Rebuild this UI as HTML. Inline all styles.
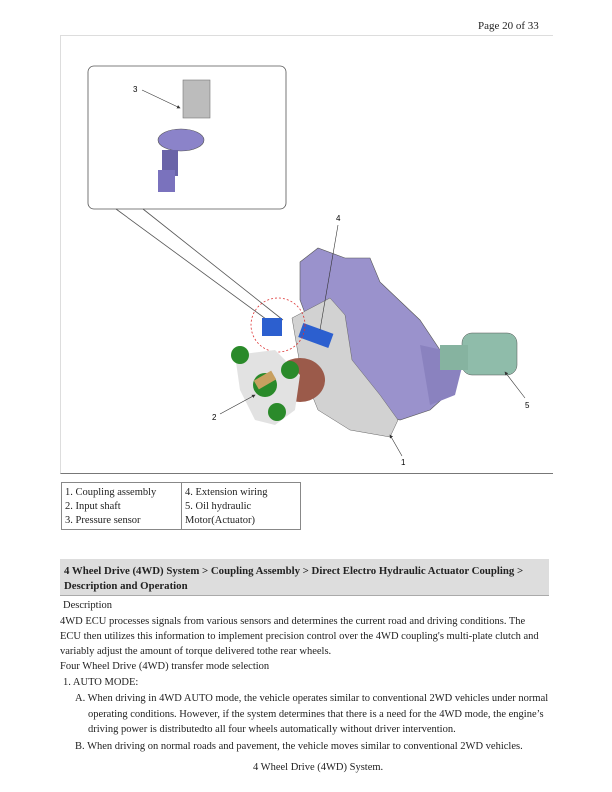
<!DOCTYPE html>
<html><head><meta charset="utf-8"><style>
body{margin:0;width:612px;height:792px;background:#fff;position:relative;font-family:"Liberation Serif",serif;color:#222;overflow:hidden}
.a{position:absolute;white-space:nowrap}
.t{font-size:10.5px;line-height:14px}
p.l{position:absolute;margin:0;font-size:10.5px;white-space:nowrap}
</style></head><body>
<div class="a" style="left:478px;top:20px;font-size:11px">Page 20 of 33</div>
<div class="a" style="left:60px;top:35px;width:492px;height:437px;border-top:1px solid #ddd;border-left:1px solid #ddd;border-bottom:1px solid #777"></div>
<svg class="a" style="left:0;top:0" width="612" height="480">
<defs><marker id="ar" markerWidth="6" markerHeight="6" refX="5" refY="3" orient="auto"><path d="M0,0 L6,3 L0,6z" fill="#333"/></marker></defs>
<rect x="88" y="66" width="198" height="143" rx="6" fill="none" stroke="#555" stroke-width="0.8"/>
<line x1="116" y1="209" x2="270" y2="322" stroke="#555" stroke-width="0.8"/>
<line x1="143" y1="209" x2="283" y2="320" stroke="#555" stroke-width="0.8"/>
<rect x="183" y="80" width="27" height="38" fill="#bcbcbc" stroke="#777" stroke-width="0.6"/>
<ellipse cx="181" cy="140" rx="23" ry="11" fill="#8b83c9" stroke="#555" stroke-width="0.6"/>
<rect x="162" y="150" width="16" height="26" fill="#6a64a8"/>
<rect x="158" y="170" width="17" height="22" fill="#7a72bd"/>
<text x="133" y="92" font-family="Liberation Sans" font-size="8">3</text>
<line x1="142" y1="90" x2="180" y2="108" stroke="#333" stroke-width="0.6" marker-end="url(#ar)"/>
<polygon points="300,262 318,248 345,258 370,258 380,282 420,320 440,350 450,392 430,410 400,420 370,410 330,380 300,300" fill="#9a92cc" stroke="#555" stroke-width="0.6"/>
<polygon points="420,345 465,355 455,395 430,405" fill="#8a82bf"/>
<polygon points="292,318 330,298 345,315 352,360 380,395 398,420 390,437 350,430 318,410 300,365" fill="#d2d2d2" stroke="#666" stroke-width="0.5"/>
<rect x="462" y="333" width="55" height="42" rx="10" fill="#8fbcaa" stroke="#555" stroke-width="0.5"/>
<rect x="440" y="345" width="28" height="25" fill="#86b3a0"/>
<rect x="262" y="318" width="20" height="18" fill="#2c5fcf"/>
<rect x="300" y="328" width="32" height="15" fill="#2c5fcf" transform="rotate(20 316 335)"/>
<circle cx="278" cy="325" r="27" fill="none" stroke="#d33" stroke-width="0.8" stroke-dasharray="2,2"/>
<ellipse cx="300" cy="380" rx="25" ry="22" fill="#9b5a4a"/>
<polygon points="235,355 275,350 300,375 295,410 275,425 255,420 240,390" fill="#e2e2e2"/>
<circle cx="240" cy="355" r="9" fill="#2a8a2a"/><circle cx="290" cy="370" r="9" fill="#2a8a2a"/><circle cx="277" cy="412" r="9" fill="#2a8a2a"/><circle cx="265" cy="385" r="12" fill="#2a8a2a"/>
<rect x="255" y="375" width="20" height="10" fill="#c8a060" transform="rotate(-30 265 380)"/>
<text x="212" y="420" font-family="Liberation Sans" font-size="8">2</text>
<line x1="220" y1="414" x2="255" y2="395" stroke="#333" stroke-width="0.6" marker-end="url(#ar)"/>
<text x="336" y="221" font-family="Liberation Sans" font-size="8">4</text>
<line x1="338" y1="225" x2="320" y2="330" stroke="#333" stroke-width="0.6"/>
<text x="525" y="408" font-family="Liberation Sans" font-size="8">5</text>
<line x1="525" y1="398" x2="505" y2="372" stroke="#333" stroke-width="0.6" marker-end="url(#ar)"/>
<text x="401" y="465" font-family="Liberation Sans" font-size="8">1</text>
<line x1="402" y1="456" x2="390" y2="435" stroke="#333" stroke-width="0.6" marker-end="url(#ar)"/>
</svg>
<div class="a t" style="left:61px;top:482px;width:121px;height:48px;border:1px solid #888;padding:3px 0 0 3px;box-sizing:border-box">1. Coupling assembly<br>2. Input shaft<br>3. Pressure sensor</div>
<div class="a t" style="left:181px;top:482px;width:120px;height:48px;border:1px solid #888;padding:3px 0 0 3px;box-sizing:border-box">4. Extension wiring<br>5. Oil hydraulic<br>Motor(Actuator)</div>
<div class="a" style="left:60px;top:559px;width:489px;height:37px;background:#ddd;border-bottom:1px solid #aaa;box-sizing:border-box;padding:5px 0 0 4px;font-size:10.8px;font-weight:bold;line-height:15px;white-space:normal">4 Wheel Drive (4WD) System &gt; Coupling Assembly &gt; Direct Electro Hydraulic Actuator Coupling &gt;<br>Description and Operation</div>
<p class="l" style="left:63px;top:600px">Description</p>
<p class="l" style="left:60px;top:616px">4WD ECU processes signals from various sensors and determines the current road and driving conditions. The</p>
<p class="l" style="left:60px;top:631px">ECU then utilizes this information to implement precision control over the 4WD coupling's multi-plate clutch and</p>
<p class="l" style="left:60px;top:646px">variably adjust the amount of torque delivered tothe rear wheels.</p>
<p class="l" style="left:60px;top:661px">Four Wheel Drive (4WD) transfer mode selection</p>
<p class="l" style="left:63px;top:677px">1. AUTO MODE:</p>
<p class="l" style="left:75px;top:693px">A. When driving in 4WD AUTO mode, the vehicle operates similar to conventional 2WD vehicles under normal</p>
<p class="l" style="left:88px;top:709px">operating conditions. However, if the system determines that there is a need for the 4WD mode, the engine’s</p>
<p class="l" style="left:88px;top:724px">driving power is distributedto all four wheels automatically without driver intervention.</p>
<p class="l" style="left:75px;top:741px">B. When driving on normal roads and pavement, the vehicle moves similar to conventional 2WD vehicles.</p>
<p class="l" style="left:253px;top:762px">4 Wheel Drive (4WD) System.</p>
</body></html>
